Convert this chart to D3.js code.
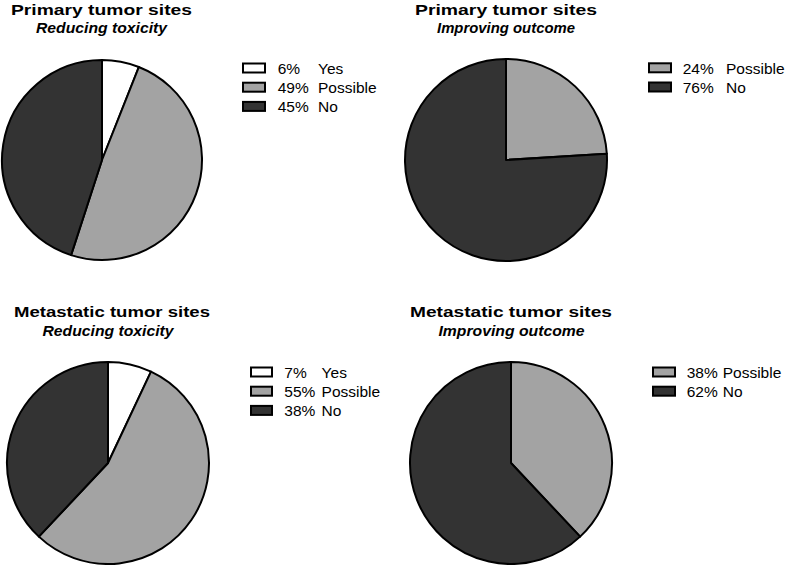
<!DOCTYPE html>
<html><head><meta charset="utf-8">
<script src="https://cdn.jsdelivr.net/npm/d3@7"></script>
<style>body{margin:0;background:#fff}text{font-family:"Liberation Sans",Arial,sans-serif;white-space:pre}</style>
</head><body><svg id="c" width="788" height="565"></svg>
<script>
// Data
const chartTitles = ["Primary tumor sites","Primary tumor sites","Metastatic tumor sites","Metastatic tumor sites"];
const chartSubtitles = ["Reducing toxicity","Improving outcome","Reducing toxicity","Improving outcome"];
const categories1 = ["Yes","Possible","No"];
const values1 = [6,49,45];
const percents1 = ["6%","49%","45%"];
const categories2 = ["Possible","No"];
const values2 = [24,76];
const percents2 = ["24%","76%"];
const categories3 = ["Yes","Possible","No"];
const values3 = [7,55,38];
const percents3 = ["7%","55%","38%"];
const categories4 = ["Possible","No"];
const values4 = [38,62];
const percents4 = ["38%","62%"];

const colorScale = d3.scaleOrdinal().domain(["Yes","Possible","No"]).range(["#ffffff","#a3a3a3","#333333"]);

const panels = [
  {cats:categories1, vals:values1, pct:percents1, cx:102, cy:160, r:100, tx:101.5, tw:181, sx:101.5, sw:131, ty:14.5, sy:33.3, lx:243, bw:22, px:277.7, lo:40.3, ly:68, ls:19.2},
  {cats:categories2, vals:values2, pct:percents2, cx:506, cy:160, r:101, tx:506, tw:182, sx:506, sw:138, ty:14.5, sy:33.3, lx:649, bw:22, px:682.7, lo:43.3, ly:67.8, ls:19.2},
  {cats:categories3, vals:values3, pct:percents3, cx:108, cy:463, r:101, tx:112, tw:196, sx:108, sw:131, ty:316.7, sy:336, lx:251, bw:21, px:284.3, lo:37.3, ly:372, ls:19.2},
  {cats:categories4, vals:values4, pct:percents4, cx:511, cy:463, r:101, tx:511, tw:202, sx:511.5, sw:146, ty:316.7, sy:336, lx:653, bw:22, px:686.7, lo:36, ly:372, ls:19.2}
];

const svg = d3.select("#c");
panels.forEach((p,i)=>{
  const g = svg.append("g");
  g.append("text").attr("x",p.tx).attr("y",p.ty).attr("text-anchor","middle")
    .attr("font-size",15.5).attr("font-weight","bold")
    .attr("textLength",p.tw).attr("lengthAdjust","spacingAndGlyphs").text(chartTitles[i]);
  g.append("text").attr("x",p.sx).attr("y",p.sy).attr("text-anchor","middle")
    .attr("font-size",15).attr("font-weight","bold").attr("font-style","italic")
    .attr("textLength",p.sw).attr("lengthAdjust","spacingAndGlyphs").text(chartSubtitles[i]);
  const data = p.cats.map((c,j)=>({cat:c, v:p.vals[j], pct:p.pct[j]}));
  const pie = d3.pie().sort(null).value(d=>d.v);
  const arc = d3.arc().innerRadius(0).outerRadius(p.r);
  g.append("g").attr("transform",`translate(${p.cx},${p.cy})`)
    .selectAll("path").data(pie(data)).join("path")
    .attr("d",arc).attr("fill",d=>colorScale(d.data.cat))
    .attr("stroke","#000").attr("stroke-width",2).attr("stroke-linejoin","round");
  const lg = g.append("g");
  data.forEach((d,j)=>{
    const y = p.ly + j*p.ls;
    lg.append("rect").attr("x",p.lx).attr("y",y-4.5).attr("width",p.bw).attr("height",9)
      .attr("fill",colorScale(d.cat)).attr("stroke","#000").attr("stroke-width",2);
    lg.append("text").attr("x",p.px).attr("y",y+6).attr("font-size",15.5).text(d.pct);
    lg.append("text").attr("x",p.px+p.lo).attr("y",y+6).attr("font-size",15.5).text(d.cat);
  });
});
</script></body></html>
